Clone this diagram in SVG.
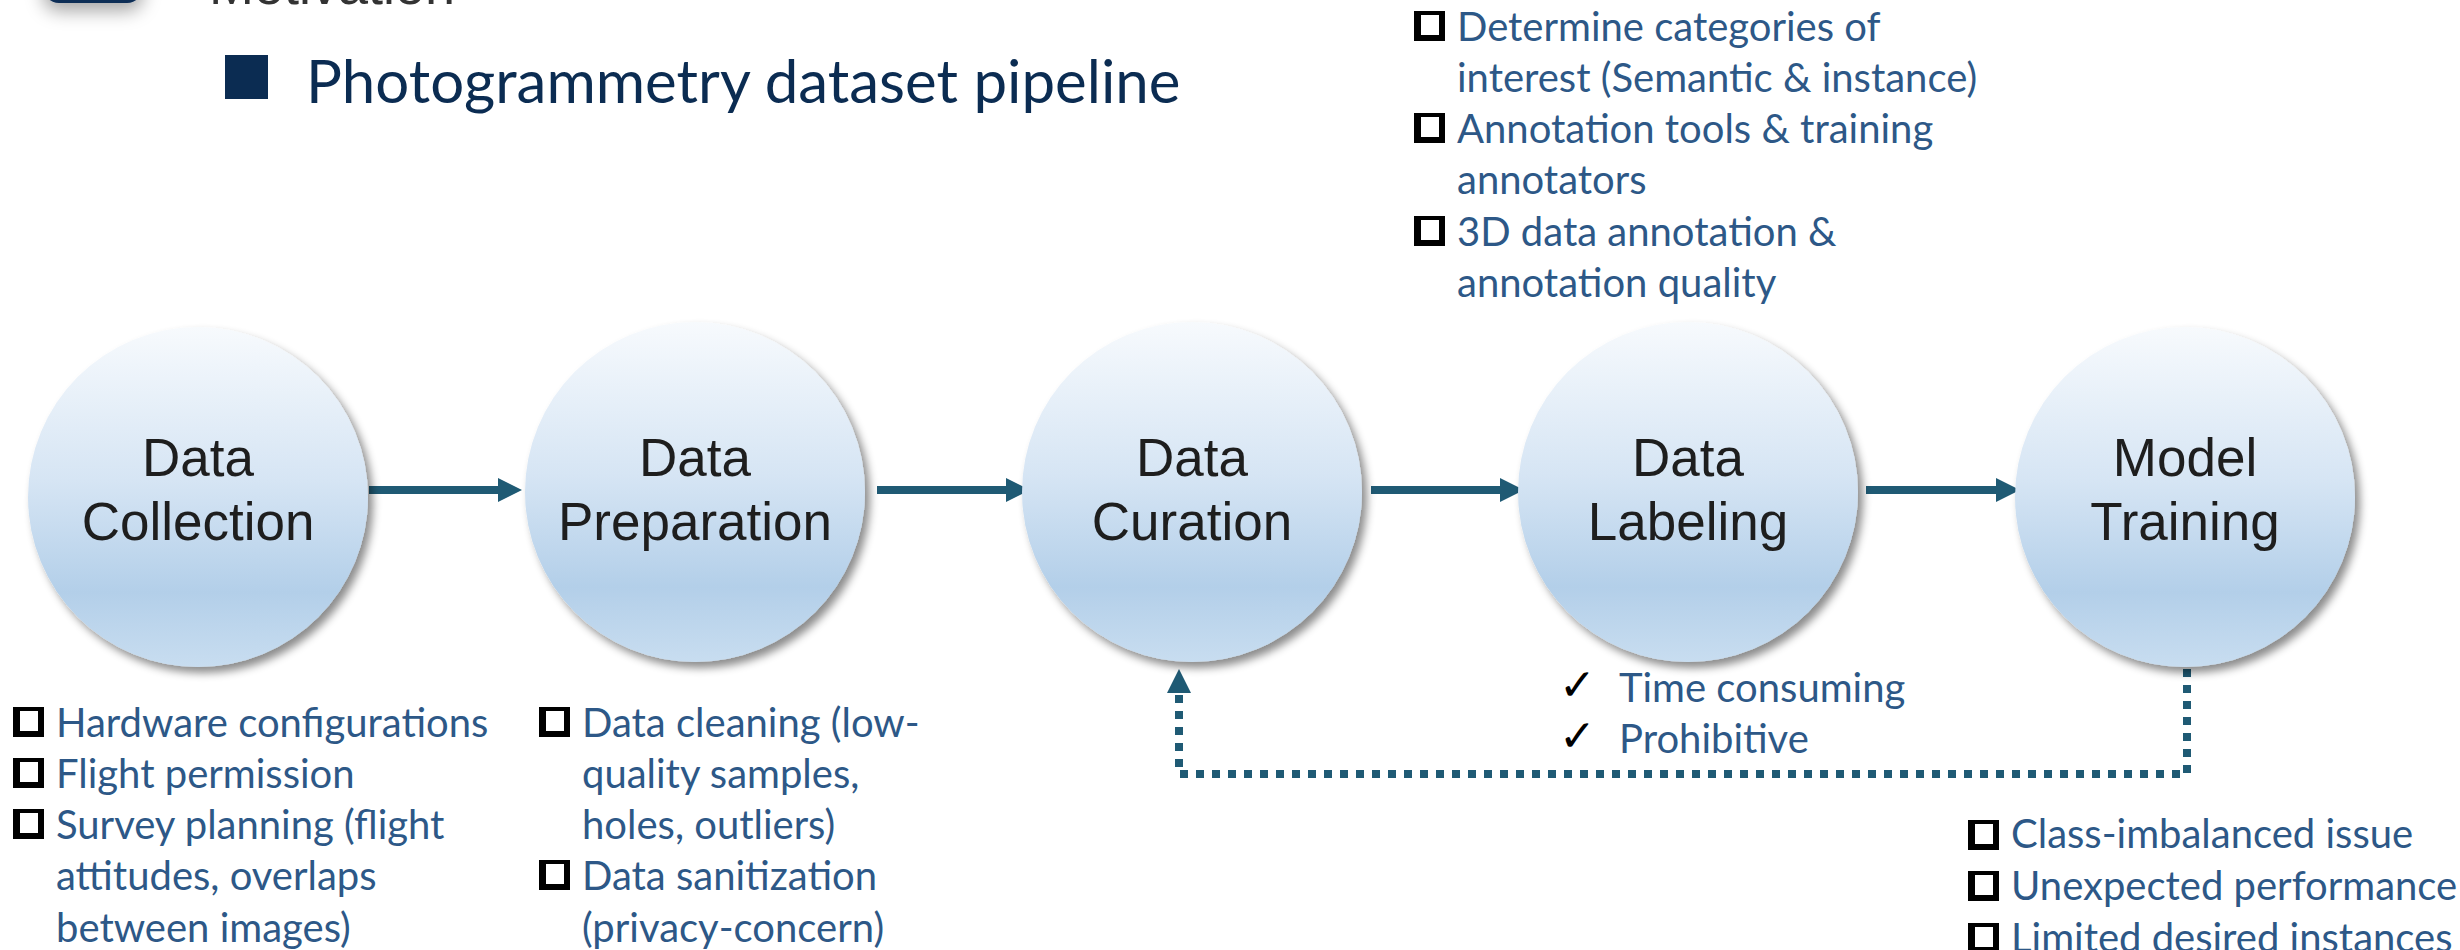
<svg xmlns="http://www.w3.org/2000/svg" xmlns:xlink="http://www.w3.org/1999/xlink" width="2460" height="950" viewBox="0 0 2460 950">
  <defs>
    <linearGradient id="ballFill" x1="0" y1="0" x2="0" y2="1">
      <stop offset="0" stop-color="#f7fafd"/>
      <stop offset="0.45" stop-color="#d6e5f4"/>
      <stop offset="0.78" stop-color="#b3cfe9"/>
      <stop offset="1" stop-color="#c8ddf0"/>
    </linearGradient>
    <filter id="ballShadow" x="-20%" y="-20%" width="140%" height="140%">
      <feDropShadow dx="5" dy="6" stdDeviation="4" flood-color="#000" flood-opacity="0.45"/>
    </filter>
    <filter id="iconShadow" x="-50%" y="-50%" width="200%" height="250%">
      <feDropShadow dx="0" dy="8" stdDeviation="9" flood-color="#000" flood-opacity="0.35"/>
    </filter>
    <marker id="head" viewBox="0 0 24 24" markerWidth="24" markerHeight="24" refX="0" refY="12" orient="auto" markerUnits="userSpaceOnUse">
      <path d="M0,0 L24,12 L0,24 z" fill="#1f5a74"/>
    </marker>
    <!-- shadowed check-box bullet -->
    <g id="box">
      <rect x="0" y="0" width="31" height="30" fill="#000"/>
      <rect x="7" y="4" width="18" height="20" fill="#fff"/>
    </g>
    <style>
      .ball { fill: url(#ballFill); filter: url(#ballShadow); }
      .ballText { font-family: "Liberation Sans", Arial, sans-serif; font-size: 53px; fill: #1e1e1e; text-anchor: middle; }
      .note { font-family: Lato, "Open Sans", sans-serif; font-size: 40px; fill: #2d5887; }
      .check { font-family: "DejaVu Sans", sans-serif; font-size: 44px; fill: #000; }
      .flow { stroke: #1f5a74; stroke-width: 8; fill: none; marker-end: url(#head); }
      .loop { stroke: #1f5a74; stroke-width: 8; fill: none; stroke-dasharray: 8 8; marker-end: url(#head); }
      .title { font-family: Lato, "Open Sans", sans-serif; font-size: 60px; fill: #0b2c52; }
    </style>
  </defs>

  <rect width="2460" height="950" fill="#fff"/>

  <!-- header -->
  <g id="header">
    <rect x="43" y="-60" width="100" height="63" rx="16" fill="#0b2d56" filter="url(#iconShadow)"/>
    <text x="209" y="4" font-family="Liberation Sans, Arial, sans-serif" font-size="54" fill="#333">Motivation</text>
    <rect x="225" y="55" width="43" height="44" fill="#0b2c52"/>
    <text class="title" x="306" y="103">Photogrammetry dataset pipeline</text>
  </g>

  <!-- connectors -->
  <g id="connectors">
    <line class="flow" x1="369" y1="490" x2="498" y2="490"/>
    <line class="flow" x1="877" y1="490" x2="1006" y2="490"/>
    <line class="flow" x1="1371" y1="490" x2="1500" y2="490"/>
    <line class="flow" x1="1866" y1="490" x2="1996" y2="490"/>
    <path class="loop" d="M2187,669 V774 H1179 V693"/>
  </g>

  <!-- stages -->
  <g id="node-collection">
    <circle class="ball" cx="198" cy="497" r="170"/>
    <text class="ballText" x="198" y="476">Data</text>
    <text class="ballText" x="198" y="540">Collection</text>
  </g>
  <g id="node-preparation">
    <circle class="ball" cx="695" cy="492" r="170"/>
    <text class="ballText" x="695" y="476">Data</text>
    <text class="ballText" x="695" y="540">Preparation</text>
  </g>
  <g id="node-curation">
    <circle class="ball" cx="1192" cy="492" r="170"/>
    <text class="ballText" x="1192" y="476">Data</text>
    <text class="ballText" x="1192" y="540">Curation</text>
  </g>
  <g id="node-labeling">
    <circle class="ball" cx="1688" cy="492" r="170"/>
    <text class="ballText" x="1688" y="476">Data</text>
    <text class="ballText" x="1688" y="540">Labeling</text>
  </g>
  <g id="node-training">
    <circle class="ball" cx="2185" cy="497" r="170"/>
    <text class="ballText" x="2185" y="476">Model</text>
    <text class="ballText" x="2185" y="540">Training</text>
  </g>

  <!-- notes: data collection -->
  <g id="notes-collection">
    <use xlink:href="#box" x="13" y="707"/>
    <use xlink:href="#box" x="13" y="758"/>
    <use xlink:href="#box" x="13" y="809"/>
    <text class="note" x="56" y="737">Hardware configurations</text>
    <text class="note" x="56" y="788">Flight permission</text>
    <text class="note" x="56" y="839">Survey planning (flight</text>
    <text class="note" x="56" y="890">attitudes, overlaps</text>
    <text class="note" x="56" y="942">between images)</text>
  </g>

  <!-- notes: data preparation -->
  <g id="notes-preparation">
    <use xlink:href="#box" x="539" y="707"/>
    <use xlink:href="#box" x="539" y="860"/>
    <text class="note" x="582" y="737">Data cleaning (low-</text>
    <text class="note" x="582" y="788">quality samples,</text>
    <text class="note" x="582" y="839">holes, outliers)</text>
    <text class="note" x="582" y="890">Data sanitization</text>
    <text class="note" x="582" y="942">(privacy-concern)</text>
  </g>

  <!-- notes: data labeling (above) -->
  <g id="notes-labeling">
    <use xlink:href="#box" x="1414" y="11"/>
    <use xlink:href="#box" x="1414" y="113"/>
    <use xlink:href="#box" x="1414" y="216"/>
    <text class="note" x="1457" y="41">Determine categories of</text>
    <text class="note" x="1457" y="92">interest (Semantic &amp; instance)</text>
    <text class="note" x="1457" y="143">Annotation tools &amp; training</text>
    <text class="note" x="1457" y="194">annotators</text>
    <text class="note" x="1457" y="246">3D data annotation &amp;</text>
    <text class="note" x="1457" y="297">annotation quality</text>
  </g>

  <!-- notes: labeling cost -->
  <g id="notes-cost">
    <text class="check" x="1559" y="700">✓</text>
    <text class="check" x="1559" y="751">✓</text>
    <text class="note" x="1619" y="702">Time consuming</text>
    <text class="note" x="1619" y="753">Prohibitive</text>
  </g>

  <!-- notes: model training -->
  <g id="notes-training">
    <use xlink:href="#box" x="1968" y="820"/>
    <use xlink:href="#box" x="1968" y="871"/>
    <use xlink:href="#box" x="1968" y="923"/>
    <text class="note" x="2011" y="848">Class-imbalanced issue</text>
    <text class="note" x="2011" y="900">Unexpected performance</text>
    <text class="note" x="2011" y="952">Limited desired instances</text>
  </g>
</svg>
